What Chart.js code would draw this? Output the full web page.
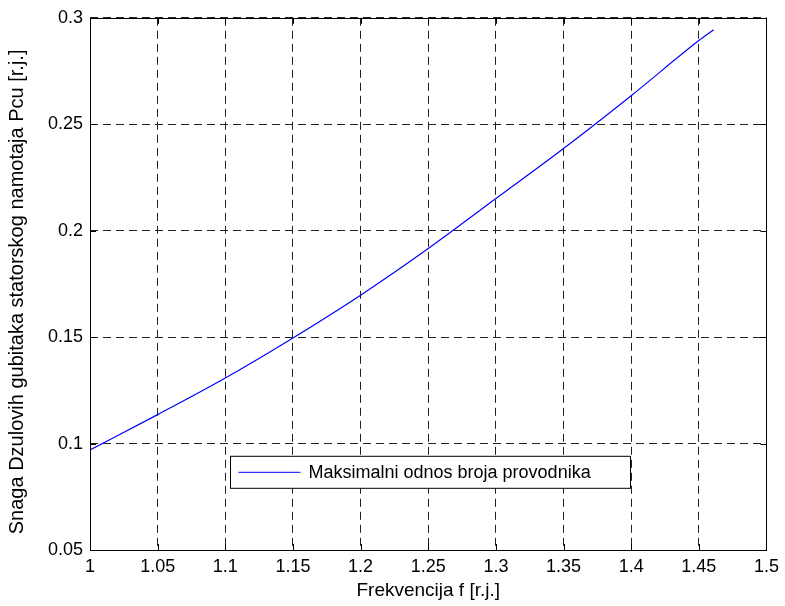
<!DOCTYPE html>
<html>
<head>
<meta charset="utf-8">
<script src="https://cdn.jsdelivr.net/npm/chart.js@4.4.0/dist/chart.umd.min.js"></script>
<style>
  html, body { margin: 0; padding: 0; background: #fff; }
  #wrap { width: 785px; height: 606px; }
</style>
</head>
<body>
<div id="wrap"><canvas id="myChart" width="785" height="606"></canvas></div>
<script>
// values
let freqValues = [1, 1.05, 1.1, 1.15, 1.2, 1.25, 1.3, 1.35, 1.4, 1.45, 1.461];
let pcuValues = [0.097, 0.1136, 0.1308, 0.1496, 0.1697, 0.1916, 0.2151, 0.2386, 0.2634, 0.2893, 0.2944];
let xTicks = [1, 1.05, 1.1, 1.15, 1.2, 1.25, 1.3, 1.35, 1.4, 1.45, 1.5];
let yTicks = [0.05, 0.1, 0.15, 0.2, 0.25, 0.3];
let seriesLabel = "Maksimalni odnos broja provodnika";
let xTitle = "Frekvencija f [r.j.]";
let yTitle = "Snaga Dzulovih gubitaka statorskog namotaja Pcu [r.j.]";

const fontFamily = "'Liberation Sans', Arial, sans-serif";

// box around plot, inward ticks, y title and the legend inside the axes
const matlabAxes = {
  id: "matlabAxes",
  afterDraw(chart) {
    const ctx = chart.ctx;
    const a = chart.chartArea;
    const xs = chart.scales.x;
    const ys = chart.scales.y;
    ctx.save();
    ctx.strokeStyle = "#000";
    ctx.lineWidth = 1;
    ctx.setLineDash([]);
    ctx.beginPath();
    xTicks.forEach((t) => {
      let px = Math.round(xs.getPixelForValue(t)) + 0.5;
      ctx.moveTo(px, a.bottom);
      ctx.lineTo(px, a.bottom - 6);
      ctx.moveTo(px, a.top);
      ctx.lineTo(px, a.top + 6);
    });
    yTicks.forEach((t) => {
      let py = Math.round(ys.getPixelForValue(t)) + 0.5;
      ctx.moveTo(a.left, py);
      ctx.lineTo(a.left + 6, py);
      ctx.moveTo(a.right, py);
      ctx.lineTo(a.right - 6, py);
    });
    ctx.stroke();
    ctx.strokeRect(Math.round(a.left) + 0.5, Math.round(a.top) + 0.5,
      Math.round(a.right - a.left), Math.round(a.bottom - a.top));

    // y axis title
    ctx.save();
    ctx.translate(17, (a.top + a.bottom) / 2 + 8);
    ctx.rotate(-Math.PI / 2);
    ctx.fillStyle = "#000";
    ctx.font = "20px " + fontFamily;
    ctx.textAlign = "center";
    ctx.textBaseline = "middle";
    ctx.fillText(yTitle, 0, 0);
    ctx.restore();

    // legend
    let lx = a.left + 140.5, ly = a.top + 438.5, lw = 400, lh = 32;
    ctx.fillStyle = "#fff";
    ctx.fillRect(lx, ly, lw, lh);
    ctx.strokeRect(lx, ly, lw, lh);
    ctx.strokeStyle = "#0000ff";
    ctx.beginPath();
    ctx.moveTo(lx + 8, ly + lh / 2);
    ctx.lineTo(lx + 70, ly + lh / 2);
    ctx.stroke();
    ctx.fillStyle = "#000";
    ctx.font = "18px " + fontFamily;
    ctx.textBaseline = "middle";
    ctx.fillText(seriesLabel, lx + 78, ly + lh / 2 + 1);
    ctx.restore();
  },
};

const lineChart = document.getElementById("myChart").getContext("2d");
const lineChartValue = new Chart(lineChart, {
  type: "line",
  data: {
    datasets: [
      {
        label: seriesLabel,
        data: freqValues.map((f, i) => ({ x: f, y: pcuValues[i] })),
        borderColor: "#0000ff",
        borderWidth: 1.2,
        pointRadius: 0,
        cubicInterpolationMode: "monotone",
        fill: false,
      },
    ],
  },
  options: {
    responsive: false,
    animation: false,
    layout: { padding: { left: 6, right: 18, top: 17, bottom: 0 } },
    plugins: {
      legend: { display: false },
      tooltip: { enabled: false },
    },
    scales: {
      x: {
        type: "linear",
        min: 1,
        max: 1.5,
        afterBuildTicks: (scale) => {
          scale.ticks = xTicks.map((v) => ({ value: v }));
        },
        afterFit: (scale) => {
          scale.height = 56;
        },
        ticks: {
          color: "#000",
          font: { family: fontFamily, size: 18 },
          padding: 6,
          maxRotation: 0,
          autoSkip: false,
          callback: (v) => String(Number(v.toFixed(2))),
        },
        grid: { color: "#222", lineWidth: 1, tickLength: 0, drawTicks: false },
        border: { display: false, dash: [8, 5] },
        title: {
          display: true,
          text: xTitle,
          color: "#000",
          font: { family: fontFamily, size: 19 },
          padding: { top: 0, bottom: 4 },
        },
      },
      y: {
        type: "linear",
        min: 0.05,
        max: 0.3,
        afterBuildTicks: (scale) => {
          scale.ticks = yTicks.map((v) => ({ value: v }));
        },
        afterFit: (scale) => {
          scale.width = 84;
        },
        ticks: {
          color: "#000",
          font: { family: fontFamily, size: 18 },
          padding: 7,
          autoSkip: false,
          callback: (v) => String(Number(v.toFixed(2))),
        },
        grid: { color: "#222", lineWidth: 1, tickLength: 0, drawTicks: false },
        border: { display: false, dash: [8, 5] },
      },
    },
  },
  plugins: [matlabAxes],
});
</script>
</body>
</html>
